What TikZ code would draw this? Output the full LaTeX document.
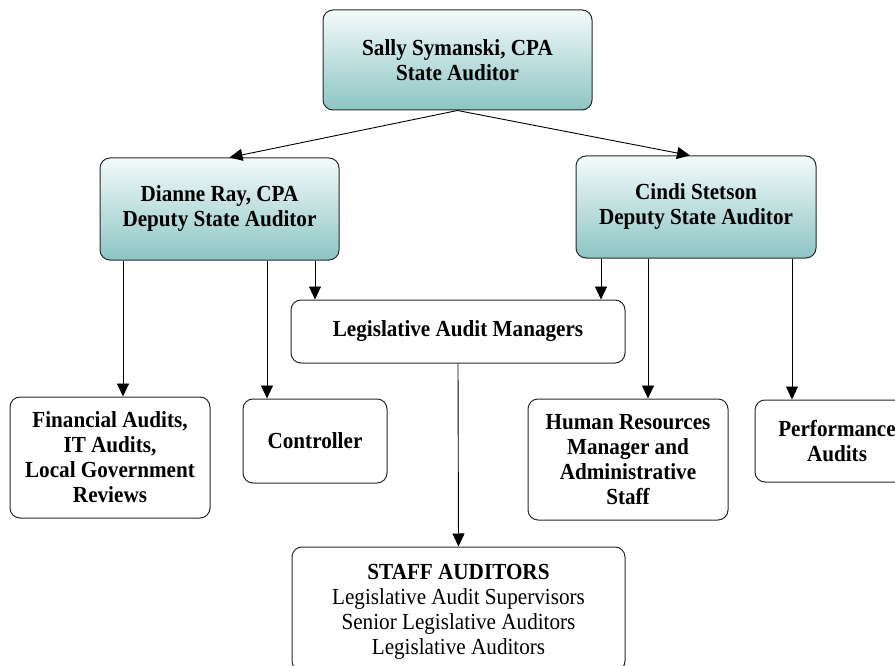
\documentclass[tikz,border=0pt]{standalone}
\usepackage{fontspec}
\setmainfont{Liberation Serif}[FakeStretch=0.92]
\usetikzlibrary{arrows.meta,calc}
\definecolor{tealtop}{RGB}{244,250,250}
\definecolor{tealbot}{RGB}{140,197,196}
\definecolor{boxline}{RGB}{40,40,40}
\tikzset{
  box/.style={draw=boxline,line width=1pt,rounded corners=10pt,align=center,inner sep=0pt,
    font=\fontsize{23}{25}\selectfont\bfseries},
  headbox/.style={box,top color=tealtop,bottom color=tealbot},
  arr/.style={-{Triangle[length=13pt,width=12pt]},line width=0.9pt}
}
\begin{document}
\begin{tikzpicture}[x=1pt,y=-1pt]
  \clip (0,0) rectangle (895,666);
  \useasboundingbox (0,0) rectangle (895,666);
  \node[headbox,minimum width=269pt,minimum height=100pt] (sa) at (457.5,60)  {Sally Symanski, CPA\\State Auditor};
  \node[headbox,minimum width=239pt,minimum height=102pt] (dr) at (219.5,209) {Dianne Ray, CPA\\Deputy State Auditor};
  \node[headbox,minimum width=240pt,minimum height=102pt] (cs) at (696,207) {Cindi Stetson\\Deputy State Auditor};
  \node[box,minimum width=334pt,minimum height=63pt] (lam) at (458,331.5) {Legislative Audit Managers};
  \node[box,minimum width=200pt,minimum height=121pt] (fin) at (110,457.5) {Financial Audits,\\IT Audits,\\Local Government\\Reviews};
  \node[box,minimum width=144pt,minimum height=84pt] (ctl) at (315,441) {Controller};
  \node[box,minimum width=200pt,minimum height=121pt] (hr) at (628,459.5) {Human Resources\\Manager and\\Administrative\\Staff};
  \node[box,minimum width=164pt,minimum height=82pt] (perf) at (837,441) {Performance\\Audits};
  \node[box,minimum width=333pt,minimum height=124pt,text depth=0pt] (staff) at (458.5,609)
    {STAFF AUDITORS\\\mdseries Legislative Audit Supervisors\\\mdseries Senior Legislative Auditors\\\mdseries Legislative Auditors};
  \coordinate (d1) at ([xshift=-96.5pt]dr.south);
  \coordinate (d2) at ([xshift=47.5pt]dr.south);
  \coordinate (d3) at ([xshift=95.5pt]dr.south);
  \coordinate (c1) at ([xshift=-95pt]cs.south);
  \coordinate (c2) at ([xshift=-48pt]cs.south);
  \coordinate (c3) at ([xshift=96pt]cs.south);
  \draw[arr] (sa.south) -- ([xshift=10pt]dr.north);
  \draw[arr] (sa.south) -- ([xshift=-6pt]cs.north);
  \draw[arr] (d1) -- (d1 |- fin.north);
  \draw[arr] (d2) -- (d2 |- ctl.north);
  \draw[arr] (d3) -- (d3 |- lam.north);
  \draw[arr] (c1) -- (c1 |- lam.north);
  \draw[arr] (c2) -- (c2 |- hr.north);
  \draw[arr] (c3) -- (c3 |- perf.north);
  \draw[arr] (lam.south) -- (staff.north);
\end{tikzpicture}
\end{document}
